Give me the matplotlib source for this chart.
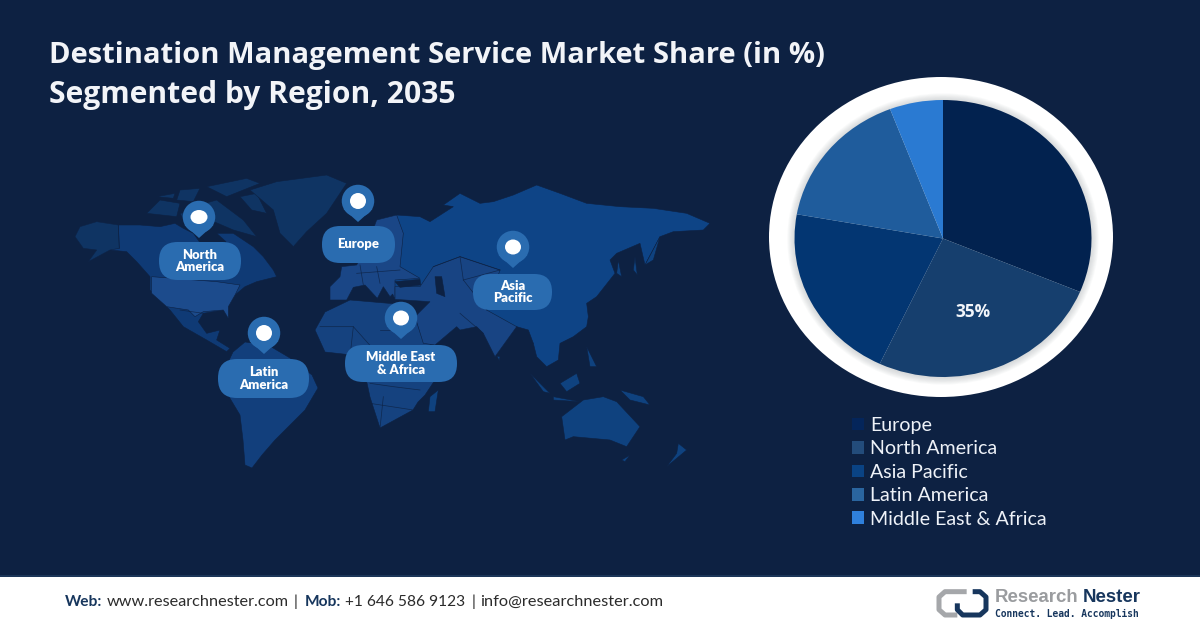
import matplotlib
matplotlib.use("Agg")
import matplotlib.pyplot as plt
from matplotlib.patches import Polygon, Ellipse, FancyBboxPatch, Rectangle

# ---------- data ----------
regions = ["Europe", "North America", "Asia Pacific", "Latin America", "Middle East & Africa"]
shares = [31.3, 25.7, 20.8, 16.4, 5.8]
slice_labels = ["", "35%", "", "", ""]
slice_colors = ["#02224F", "#163F6E", "#033672", "#1F5C9C", "#2A7AD2"]
legend_colors = ["#04255A", "#234C7B", "#0A4384", "#2A659F", "#2F80DC"]

title_lines = ["Destination Management Service Market Share (in %)", "Segmented by Region, 2035"]
title_sizes = [21, 21.6]
callout_text = ["North\nAmerica", "Europe", "Latin\nAmerica", "Middle East\n& Africa", "Asia\nPacific"]
callout_pin = [(199, 217), (358, 201), (264, 333), (401, 318), (513, 247)]
callout_dot = [(17, 14), (16, 16), (16, 16), (16, 15), (16, 15)]
callout_pill = [(159, 242, 241, 280), (322, 226, 395, 263), (218, 359, 309, 398),
                (345, 345, 457, 382), (473, 274, 552, 310)]

BG = "#0D2142"
PILL = "#2A6CB0"

# ---------- decorative map outlines (pixels of two reference crops) ----------
def z3(pts): return [(60 + x / 3, 170 + y / 3) for x, y in pts]
def z4(pts): return [(320 + x / 3, 170 + y / 3) for x, y in pts]

north_america = z3([(45,200),(60,170),(110,155),(175,165),(240,165),(300,170),(345,160),(370,175),(400,190),(425,225),(475,255),(498,215),(470,190),(520,190),(580,230),(610,260),(640,300),(650,320),(590,335),(555,350),(525,375),(505,410),(505,445),(490,420),(430,430),(415,455),(440,490),(480,480),(470,510),(510,535),(500,545),(440,510),(370,470),(330,420),(300,390),(270,360),(270,320),(230,275),(200,245),(150,240),(85,275),(110,240),(70,235)])
alaska = z3([(45,200),(60,170),(110,155),(175,165),(178,235),(150,240),(85,275),(110,240),(70,235)])
usa = z3([(275,320),(470,335),(540,345),(525,375),(505,410),(505,445),(490,420),(430,425),(405,440),(385,420),(320,410),(275,370)])
arctic = [z3([(260,130),(300,90),(360,100),(350,140)]), z3([(440,50),(560,25),(600,40),(500,80)]),
          z3([(400,110),(470,90),(550,150),(590,200),(520,180),(450,150)]), z3([(540,80),(590,70),(620,130),(575,120)]),
          z3([(360,60),(420,55),(400,95),(350,90)]), z3([(290,80),(345,70),(340,85)]),
          z3([(360,130),(400,125),(420,165),(375,160)])]
greenland = z3([(570,60),(650,35),(800,15),(860,40),(800,130),(740,185),(700,230),(660,190),(640,120)])
south_america = [(233,352),(245,342),(268,345),(290,358),(312,375),(318,388),(305,410),(290,425),(275,440),(262,455),(252,468),(245,465),(243,440),(240,415),(228,395),(222,375)]
eurasia = z4([(30,350),(60,320),(65,290),(110,285),(140,230),(170,150),(230,135),(300,140),(330,155),(400,110),(370,105),(420,70),(480,100),(520,95),(580,75),(650,45),(720,70),(800,100),(900,110),(1000,115),(1100,130),(1170,160),(1150,180),(1060,185),(1020,200),(975,285),(960,220),(890,250),(870,270),(885,310),(830,380),(800,400),(805,440),(800,470),(760,500),(720,520),(715,570),(680,590),(650,560),(640,520),(625,480),(590,470),(525,560),(490,490),(470,470),(420,480),(410,470),(345,525),(310,520),(285,440),(330,395),(225,388),(218,372),(210,380),(190,350),(172,385),(135,345),(100,352),(80,390),(30,390)])
europe_west = z4([(30,350),(60,320),(65,290),(110,285),(140,230),(170,150),(230,135),(250,190),(240,290),(300,325),(225,330),(225,388),(218,372),(210,380),(190,350),(172,385),(135,345),(100,352),(80,390),(30,390)])
mideast = z4([(225,388),(225,350),(300,350),(340,290),(420,260),(540,300),(500,420),(590,470),(525,560),(490,490),(470,470),(420,480),(410,470),(345,525),(310,520),(285,440),(330,395)])
inland_seas = [z4([(225,335),(300,328),(302,345),(240,352)]), z4([(345,320),(365,320),(375,380),(350,370)])]
africa = [(315,330),(325,312),(350,300),(385,303),(410,305),(420,330),(445,365),(425,395),(418,402),(413,410),(380,428),(370,397),(367,383),(352,355),(325,352)]
australia = z4([(725,740),(790,690),(850,680),(890,695),(960,770),(920,830),(870,810),(760,800),(735,810)])
islands = [z4([(900,660),(970,680),(990,705),(930,690)]), z4([(630,610),(690,670),(670,665)]),
           z4([(720,640),(770,610),(780,640),(740,665)]), z4([(700,680),(780,695),(700,690)]),
           z4([(800,530),(830,590),(810,590)]), z4([(355,660),(345,725),(325,725),(330,680)]),
           z4([(1075,820),(1100,840),(1040,890),(1070,850)]), z4([(975,285),(1020,200),(1000,270)]),
           z4([(905,870),(930,855),(915,875)]), z4([(530,558),(540,560),(538,572)]),
           z4([(945,260),(952,315),(940,300)]), z4([(895,270),(905,320),(890,310)])]
borders = [z4([(340,290),(420,260),(540,300)]), z4([(420,260),(430,330),(500,420)]),
           z4([(430,330),(540,300)]), z4([(420,430),(490,490)]), z4([(590,470),(640,520)]),
           z4([(150,640),(220,650),(300,660)]), z4([(190,680),(180,775)]), z4([(150,700),(280,720)]),
           z4([(0,470),(100,470),(180,560)]), z4([(100,470),(90,560)]), z4([(180,480),(270,480)]),
           z4([(120,285),(130,345)]), z4([(170,290),(180,340)]), z4([(110,310),(240,300)]),
           z3([(175,165),(178,235)]), z3([(360,420),(430,430)])]

# ---------- figure ----------
fig = plt.figure(figsize=(12, 6.28), dpi=100, facecolor=BG)
bg = fig.add_axes([0, 0, 1, 1])
bg.set_xlim(0, 1200); bg.set_ylim(628, 0); bg.axis("off")

def land(pts, color, z=1):
    bg.add_patch(Polygon(pts, closed=True, fc=color, ec=BG, lw=0.4, zorder=z))

land(north_america, "#0F3A75")
land(alaska, "#0F3463", 2)
land(usa, "#1C4B8C", 2)
for p in arctic:
    land(p, "#0F3463")
land(greenland, "#0F3463")
land(south_america, "#123F7C")
land(eurasia, "#0E4486")
land(europe_west, "#1A4686", 2)
land(mideast, "#184483", 2)
for p in inland_seas:
    land(p, BG, 3)
land(africa, "#15427F")
land(australia, "#0F427F")
for p in islands:
    land(p, "#0F427F")
for b in borders:
    bg.plot(*zip(*b), color=BG, lw=0.5, alpha=0.8, zorder=3)

# callouts
for text, (px, py), (dw, dh), (x0, y0, x1, y1) in zip(callout_text, callout_pin, callout_dot, callout_pill):
    bg.add_patch(Ellipse((px, py), 32.5, 32.5, fc=PILL, zorder=5))
    bg.add_patch(Polygon([(px - 14.5, py + 8), (px + 14.5, py + 8), (px, py + 21)], fc=PILL, zorder=5))
    bg.add_patch(Ellipse((px, py), dw, dh, fc="white", zorder=6))
    h = y1 - y0
    r = h * 0.49
    bg.add_patch(FancyBboxPatch((x0 + r, y0 + r), x1 - x0 - 2 * r, h - 2 * r,
                                boxstyle=f"round,pad={r},rounding_size={r}", fc=PILL, ec="none", zorder=5))
    bg.text((x0 + x1) / 2, (y0 + y1) / 2, text, color="white", family="Lato", weight="heavy",
            fontsize=9.4, ha="center", va="center", linespacing=1.02, zorder=7)

# title
for line, y, fs in zip(title_lines, [55, 95], title_sizes):
    bg.text(49, y, line, color="#F2F4F8", family="Open Sans", weight="bold", fontsize=fs,
            ha="left", va="center")

# white ring with soft inner shadow
bg.add_patch(Ellipse((941, 237), 344, 320, fc="white", ec="none", zorder=2))
for k in range(8):
    bg.add_patch(Ellipse((943, 239), 297 + 1.8 * (8 - k), 277 + 1.8 * (8 - k),
                         fc="#8A8F98", alpha=0.045, ec="none", zorder=3))

# pie: radius fills an axes stretched to the reference's ellipse
pie_ax = fig.add_axes([(943 - 148.5) / 1200, 1 - (238.5 + 138.5) / 628, 297 / 1200, 277 / 628])
pie_ax.patch.set_alpha(0)
wedges, texts = pie_ax.pie(shares, colors=slice_colors, startangle=90, counterclock=False,
                           labels=slice_labels, labeldistance=0.57, radius=1.0,
                           wedgeprops={"linewidth": 0})
for t in texts:
    t.set(ha="center", va="center", color="#F2F5FA", family="Open Sans", weight="bold", fontsize=12.4)
pie_ax.set_aspect("auto")
pie_ax.set_xlim(-1, 1); pie_ax.set_ylim(-1, 1)

# legend
handles = [Rectangle((0, 0), 1, 1, fc=c, ec="none") for c in legend_colors]
leg = fig.legend(handles, regions, loc="upper left", bbox_to_anchor=(846 / 1200, 1 - 411 / 628),
                 bbox_transform=fig.transFigure, frameon=False, prop={"family": "Lato", "size": 14.1},
                 labelcolor="#EEF2F8", handlelength=0.62, handleheight=0.62, handletextpad=0.33,
                 labelspacing=0.33, borderpad=0.3, borderaxespad=0)

# footer
bg.add_patch(Rectangle((0, 576), 1200, 52, fc="white", ec="none", zorder=8))
bg.add_patch(Rectangle((0, 575), 1200, 1.6, fc="#1B3558", ec="none", zorder=8))
NAVY = "#17365D"
GREY = "#2B2B2B"
pieces = [("Web:", NAVY, "bold", 65, 11.2), ("www.researchnester.com", GREY, "normal", 107, 11.7),
          ("|", GREY, "normal", 294, 11.2), ("Mob:", NAVY, "bold", 305, 11.2), ("+1 646 586 9123", GREY, "normal", 345, 11.2),
          ("|", GREY, "normal", 472, 11.2), ("info@researchnester.com", GREY, "normal", 480, 11.8)]
for s, c, w, x, fs in pieces:
    bg.text(x, 601.5, s, color=c, weight=w, family="Lato", fontsize=fs, ha="left", va="center", zorder=9)

# logo
def zl(pts): return list(zip(*[(900 + x / 3, 575 + y / 3) for x, y in pts]))
bg.plot(*zl([(200,50),(135,50),(117,66),(117,104),(135,120),(172,120)]), color="#A5A7AA", lw=3.6,
        solid_capstyle="butt", solid_joinstyle="round", zorder=9)
bg.plot(*zl([(172,85),(172,104),(188,120),(240,120),(258,104),(258,66),(240,50),(218,50)]), color="#17365D",
        lw=3.6, solid_capstyle="butt", solid_joinstyle="round", zorder=10)
bg.text(995, 598, "Research", color="#9A9C9F", family="Liberation Sans",
        weight="bold", fontsize=13.4, ha="left", va="center", zorder=9)
bg.text(1083, 598, "Nester", color="#17365D", family="Liberation Sans",
        weight="bold", fontsize=13.4, ha="left", va="center", zorder=9)
bg.text(995, 613.5, "Connect. Lead. Accomplish", color="#17365D", family="DejaVu Sans Mono", weight="bold",
        fontsize=6.9, ha="left", va="center", zorder=9)

fig.savefig("out.png", dpi=100, facecolor=BG)
